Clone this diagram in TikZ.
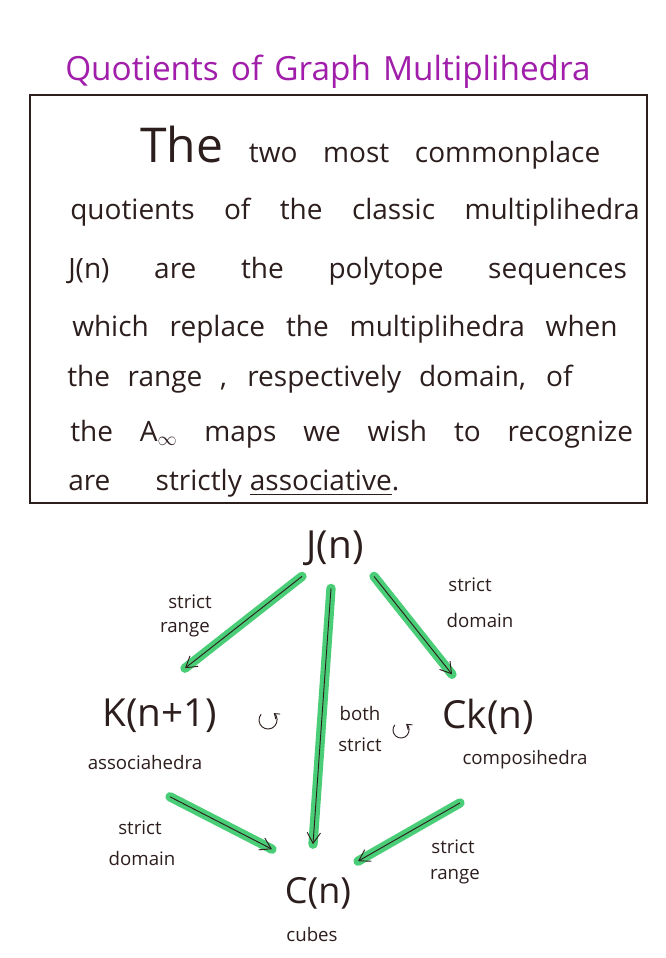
\documentclass[tikz,border=0pt]{standalone}
\usepackage{amssymb}
\usepackage{fontspec}
\setmainfont{Open Sans}
\usetikzlibrary{arrows.meta}
\definecolor{ink}{RGB}{45,30,30}
\definecolor{purp}{RGB}{160,30,170}
\definecolor{mgreen}{RGB}{55,200,105}
\begin{document}
\begin{tikzpicture}[x=0.75pt,y=-0.75pt,
  txtline/.style={anchor=base west, inner sep=0pt, text=ink, font=\fontsize{21}{21}\selectfont},
  titletxt/.style={anchor=base west, inner sep=0pt, text=purp, font=\fontsize{25}{25}\selectfont},
  big/.style={text=ink, inner sep=2pt, font=\fontsize{29}{29}\selectfont},
  lab/.style={text=ink, inner sep=1pt, font=\fontsize{14}{14}\selectfont},
  sub/.style={text=ink, inner sep=1pt, font=\fontsize{14}{14}\selectfont},
  arr/.style={draw=ink, line width=0.7pt, -{Straight Barb[length=8pt,width=10pt]},
    preaction={draw=mgreen, line width=7pt, line cap=round, arrows=-, opacity=0.9}},
  rot/.style={draw=ink, line width=0.7pt, -{Straight Barb[length=3.5pt,width=5pt]}},
  frame/.style={draw=ink, line width=1pt}
]
\useasboundingbox[fill=white] (0,0) rectangle (666,958);

% title
\node[titletxt] (title) at (65,80) {\makebox[394pt][s]{Quotients of Graph Multiplihedra}};

% frame
\draw[frame] (30,95) rectangle (647,503);

% paragraph
\node[txtline] (l1) at (140,162) {\makebox[345pt][s]{{\fontsize{36}{36}\selectfont The} two most commonplace}};
\node[txtline] (l2) at (70,219) {\makebox[427pt][s]{quotients of the classic multiplihedra}};
\node[txtline] (l3) at (68,278) {\makebox[419pt][s]{J(n) are the polytope sequences}};
\node[txtline] (l4) at (72,336) {\makebox[409pt][s]{which replace the multiplihedra when}};
\node[txtline] (l5) at (67,386) {\makebox[379pt][s]{the range , respectively domain, of}};
\node[txtline] (l6) at (70,441) {\makebox[422pt][s]{the A\textsubscript{$\infty$} maps we wish to recognize}};
\node[txtline] (l7) at (68,490) {are\hspace{34pt}strictly\hspace{6pt}\underline{associative}.};

% diagram nodes
\node[big] (J) at (335,548) {J(n)};
\node[big] (K) at (160,716) {K(n+1)};
\node[sub] (Ka) at (145,762) {associahedra};
\node[big] (Ck) at (488,717) {Ck(n)};
\node[sub] (Cka) at (525,760) {composihedra};
\node[big, font=\fontsize{27}{27}\selectfont] (C) at (318,893) {C(n)};
\node[sub] (Cc) at (312,934) {cubes};

% labels
\node[lab] (s1) at (190,602) {strict};
\node[lab] (r1) at (185,630) {range};
\node[lab] (s2) at (470,585) {strict};
\node[lab] (d2) at (480,620) {domain};
\node[lab] (b3) at (360,713) {both};
\node[lab] (s3) at (360,745) {strict};
\node[lab] (s4) at (140,828) {strict};
\node[lab] (d4) at (142,858) {domain};
\node[lab] (s5) at (453,847) {strict};
\node[lab] (r5) at (455,877) {range};

% arrows
\draw[arr] ([shift={(-33,8)}]J.south) -- ([shift={(25,-28)}]K.north);
\draw[arr] ([shift={(-4,20)}]J.south) -- ([shift={(-5,-30)}]C.north);
\draw[arr] ([shift={(39,8)}]J.south) -- ([shift={(-36,-22)}]Ck.north);
\draw[arr] ([shift={(25,26)}]Ka.south) -- ([shift={(-46,-25)}]C.north);
\draw[arr] ([shift={(-65,32)}]Cka.south) -- ([shift={(40,-13)}]C.north);

% commutation symbols
\coordinate (c1) at (268,720);
\coordinate (c2) at (401,730);
\draw[rot] (c1) ++(-140:9) arc[start angle=-140, end angle=-410, radius=9];
\draw[rot] (c2) ++(-140:8) arc[start angle=-140, end angle=-410, radius=8];
\end{tikzpicture}
\end{document}
